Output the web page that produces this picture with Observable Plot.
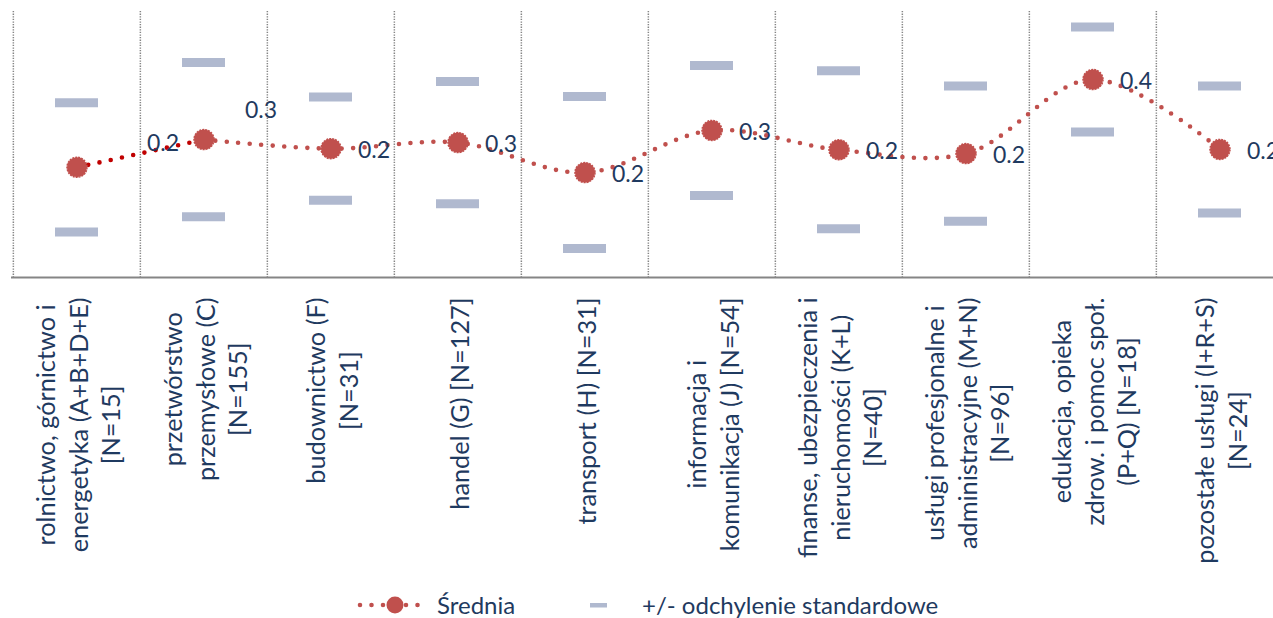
<!DOCTYPE html>
<html>
<head>
<meta charset="utf-8">
<script src="https://cdn.jsdelivr.net/npm/d3@7"></script>
<script src="https://cdn.jsdelivr.net/npm/@observablehq/plot@0.6"></script>
<style>
  html, body { margin: 0; padding: 0; background: #fff; overflow: hidden; width: 1273px; height: 618px; }
  #wrap { position: relative; width: 1273px; height: 618px; overflow: hidden; }
  #chart { width: 1285px; }
  #chart svg { max-width: none !important; }
  #legend { position: absolute; top: 591px; left: 0; width: 1273px; height: 27px; font-family: Lato, sans-serif; font-size: 24px; color: #1f3a60; }
  #legend .item { position: absolute; top: 0; height: 27px; line-height: 27px; white-space: nowrap; }
  #legend svg { display: block; }
</style>
</head>
<body>
<div id="wrap">
  <div id="chart"></div>
  <div id="legend"></div>
</div>
<script>
// ---- data ----
const categories = [
  "rolnictwo, górnictwo i\nenergetyka (A+B+D+E)\n[N=15]",
  "przetwórstwo\nprzemysłowe (C)\n[N=155]",
  "budownictwo (F)\n[N=31]",
  "handel (G) [N=127]",
  "transport (H) [N=31]",
  "informacja i\nkomunikacja (J) [N=54]",
  "finanse, ubezpieczenia i\nnieruchomości (K+L)\n[N=40]",
  "usługi profesjonalne i\nadministracyjne (M+N)\n[N=96]",
  "edukacja, opieka\nzdrow. i pomoc społ.\n(P+Q) [N=18]",
  "pozostałe usługi (I+R+S)\n[N=24]"
];
const means = [0.190, 0.263, 0.239, 0.255, 0.176, 0.287, 0.236, 0.226, 0.421, 0.237];
const sds   = [0.170, 0.203, 0.136, 0.161, 0.200, 0.171, 0.208, 0.178, 0.138, 0.167];
const yDomain = [-0.1, 0.6];
const legendLabels = ["Średnia", "+/- odchylenie standardowe"];

// ---- derived table ----
const data = categories.map((c, i) => ({cat: c, mean: means[i], sd: sds[i], i}));
const fmt = d3.format(".1f");

const W = 1285, ML = 11, MR = 1;
const band = (W - ML - MR) / categories.length;

const red = "#c0504d", darkRed = "#c00000", sdColor = "#b0b9cf", navy = "#1f3a60", grid = "#858585";

const lineStyle = {strokeWidth: 4.6, strokeDasharray: "0 11.5", strokeLinecap: "round"};

const chart = Plot.plot({
  width: W,
  height: 580,
  marginLeft: ML,
  marginRight: MR,
  marginTop: 11,
  marginBottom: 303,
  style: {fontFamily: "Lato, sans-serif", background: "transparent", color: navy, overflow: "visible", maxWidth: "none"},
  x: {type: "band", domain: categories, padding: 0, axis: null},
  y: {domain: yDomain, axis: null},
  marks: [
    Plot.ruleX(categories, {x: d => d, dx: -band / 2, stroke: grid, strokeWidth: 1.5, strokeDasharray: "1.3 1.3"}),
    Plot.ruleY([yDomain[0]], {stroke: grid, strokeWidth: 2}),
    Plot.tickY(data, {x: "cat", y: d => d.mean + d.sd, stroke: sdColor, strokeWidth: 9, inset: 42}),
    Plot.tickY(data, {x: "cat", y: d => d.mean - d.sd, stroke: sdColor, strokeWidth: 9, inset: 42}),
    Plot.line(data.slice(1), {x: "cat", y: "mean", stroke: red, curve: "catmull-rom", ...lineStyle}),
    Plot.line(data.slice(0, 2), {x: "cat", y: "mean", stroke: darkRed, ...lineStyle}),
    Plot.dot(data, {x: "cat", y: "mean", r: 10, fill: red, stroke: red, strokeWidth: 1.5, strokeDasharray: "2 1"}),
    Plot.text(data.filter(d => d.i >= 2), {x: "cat", y: "mean", text: d => fmt(d.mean), textAnchor: "start", lineAnchor: "middle", dx: 27, dy: 2, fill: navy, fontSize: 23}),
    Plot.text(data.filter(d => d.i === 0), {x: "cat", y: "mean", text: d => fmt(d.mean), textAnchor: "start", lineAnchor: "middle", dx: 70, dy: -24, fill: navy, fontSize: 23}),
    Plot.text(data.filter(d => d.i === 1), {x: "cat", y: "mean", text: d => fmt(d.mean), textAnchor: "start", lineAnchor: "middle", dx: 41, dy: -29, fill: navy, fontSize: 23}),
    Plot.text(categories, {x: d => d, frameAnchor: "bottom", text: d => d, rotate: -90, textAnchor: "middle", lineAnchor: "middle", lineHeight: 1.3, fill: navy, fontSize: 25.3})
  ]
});
document.getElementById("chart").append(chart);

// place each rotated label block so its longest line starts just below the axis
const labelTop = chart.scale("y").apply(yDomain[0]) + 20;
chart.querySelectorAll('text[transform*="rotate"]').forEach(t => {
  const bb = t.getBBox();
  const tr = t.getAttribute("transform") || "";
  const m = /translate\(\s*([-\d.e]+)[ ,]+([-\d.e]+)\s*\)/.exec(tr);
  if (m) t.setAttribute("transform", `translate(${m[1]},${labelTop + bb.width / 2}) rotate(-90)`);
});

// ---- legend (HTML, below the chart) ----
const legend = document.getElementById("legend");
legend.innerHTML = `
  <div class="item" style="left:357px;top:2px">
    <svg width="68" height="24">
      <line x1="3" y1="12" x2="65" y2="12" stroke="${red}" stroke-width="4.6" stroke-dasharray="0 11.5" stroke-linecap="round"/>
      <circle cx="38" cy="12" r="8.5" fill="${red}"/>
    </svg>
  </div>
  <div class="item" style="left:437px">${legendLabels[0]}</div>
  <div class="item" style="left:590px;top:12px"><svg width="17" height="5"><rect width="17" height="4.5" fill="${sdColor}"/></svg></div>
  <div class="item" style="left:642px">${legendLabels[1]}</div>
`;
</script>
</body>
</html>
